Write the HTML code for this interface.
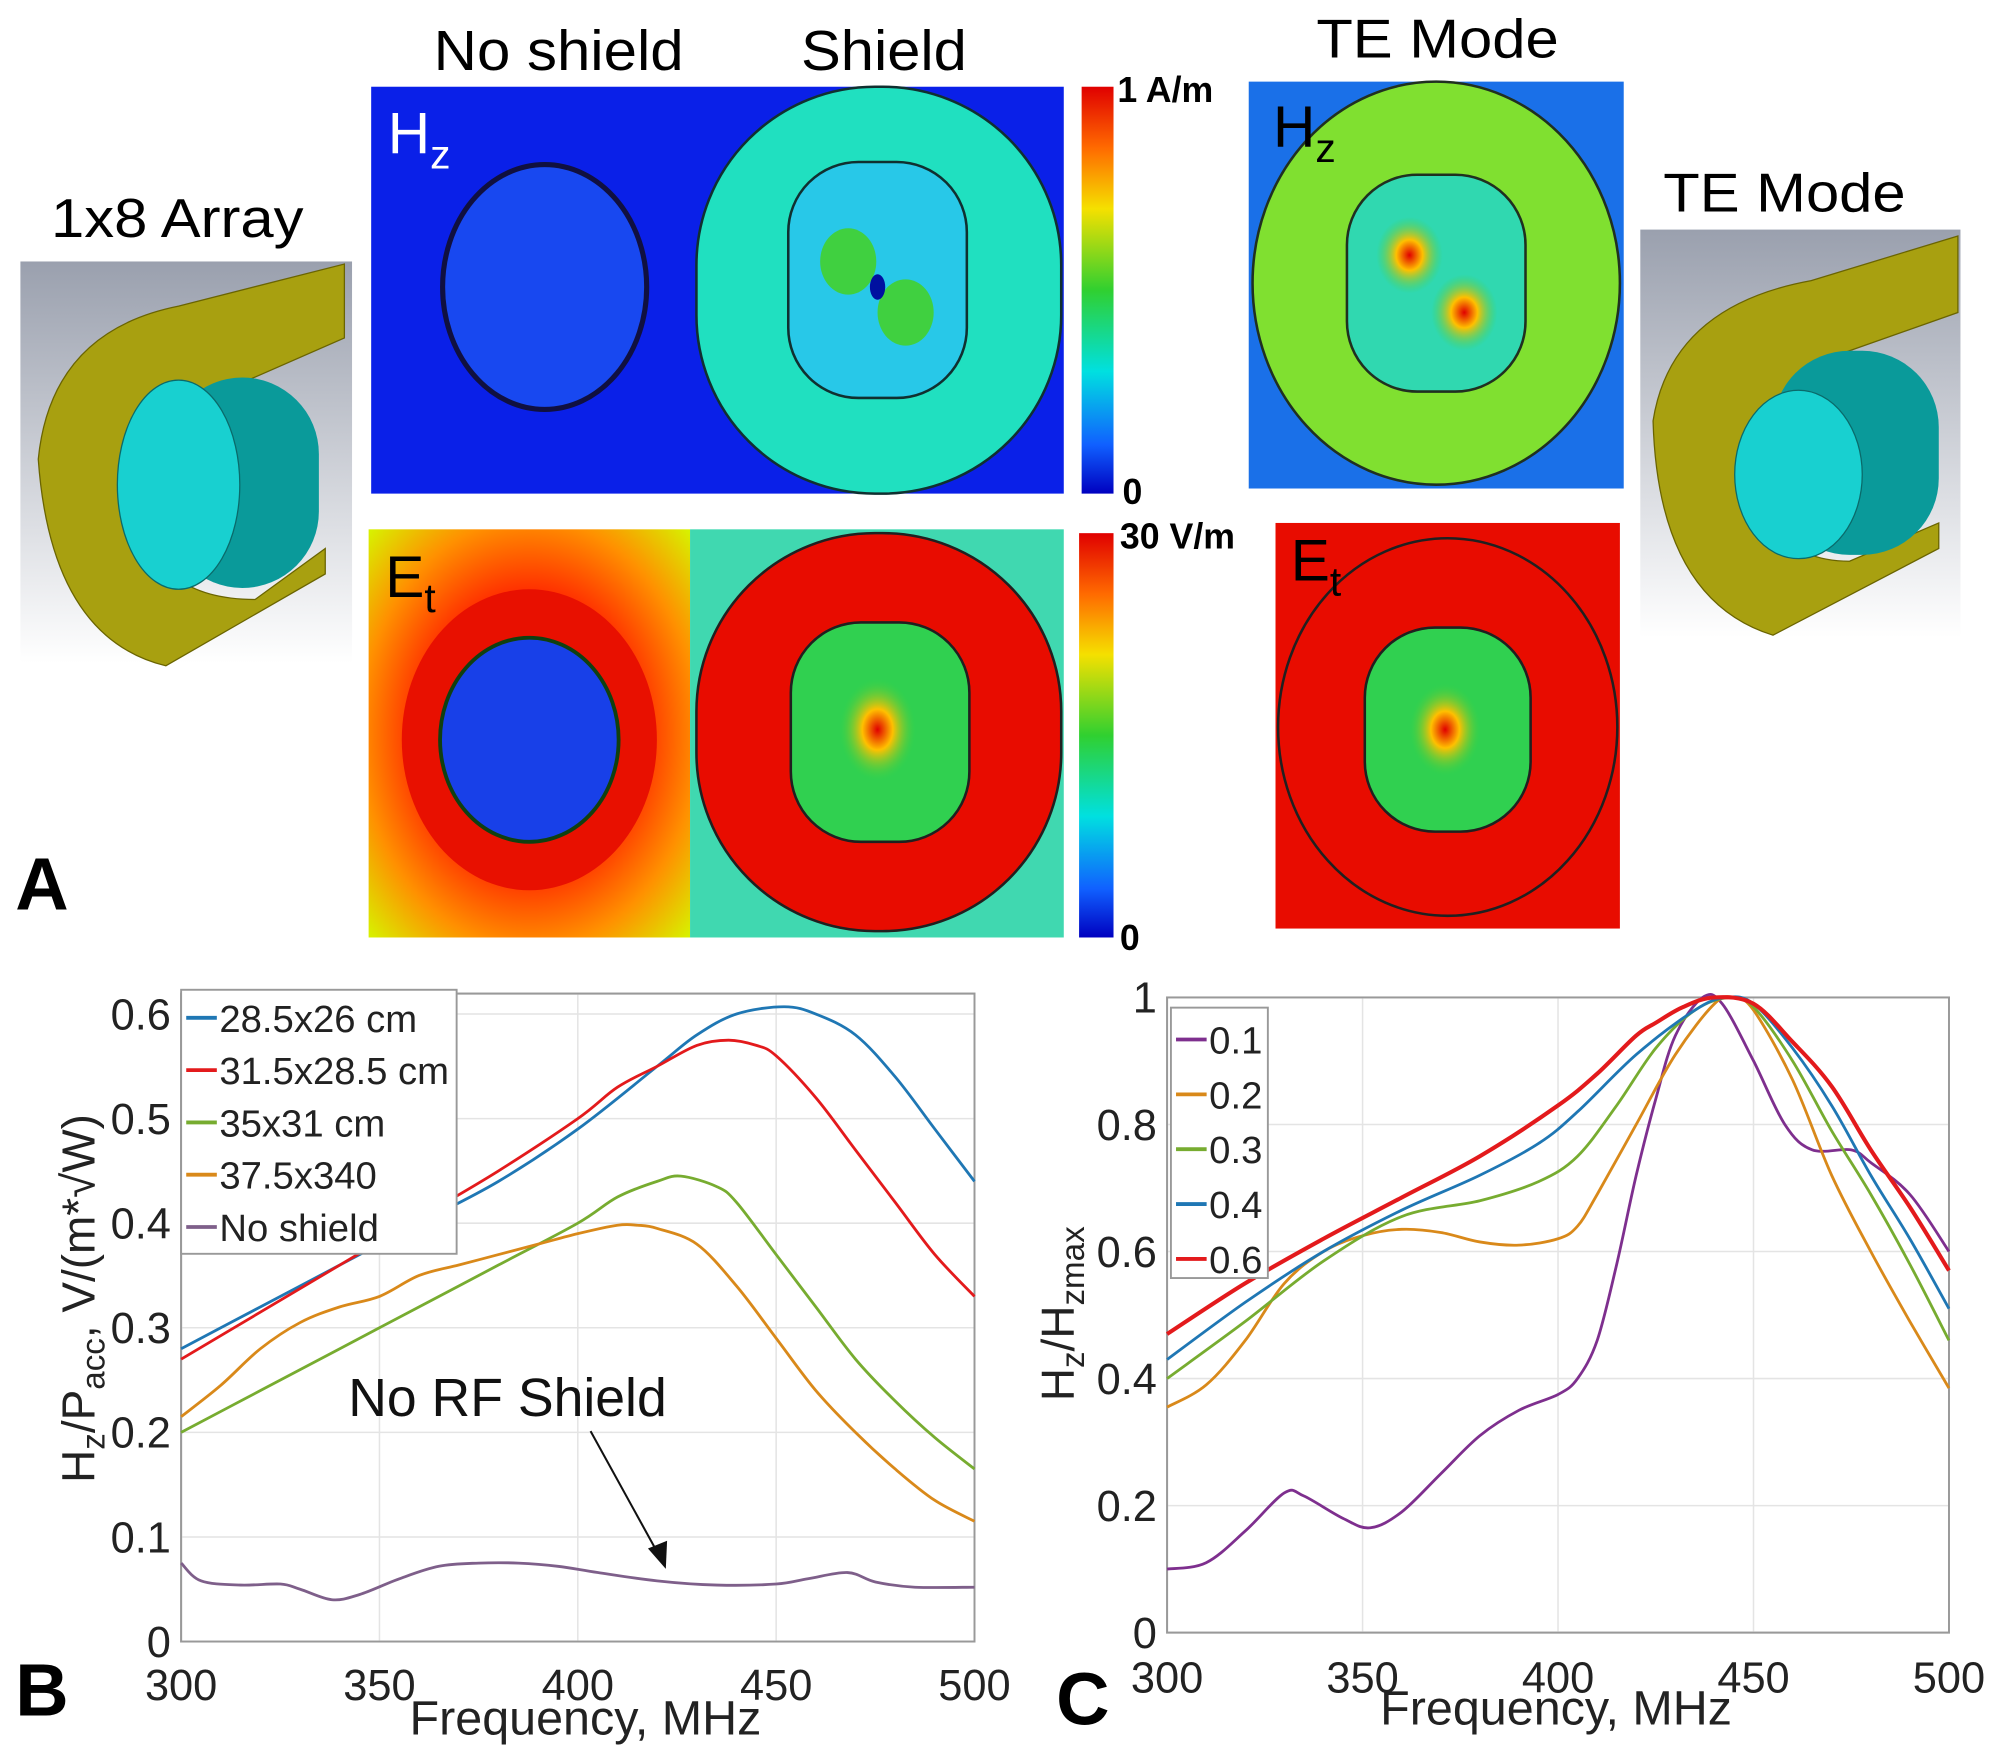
<!DOCTYPE html>
<html><head><meta charset="utf-8"><style>
html,body{margin:0;padding:0;background:#fff}
svg{display:block}
text{font-family:"Liberation Sans",sans-serif}
</style></head><body>
<svg id="fig" width="2000" height="1764" viewBox="0 0 1568 1383" preserveAspectRatio="none" xmlns="http://www.w3.org/2000/svg">
<defs>
<linearGradient id="cbar" x1="0" y1="0" x2="0" y2="1">
<stop offset="0" stop-color="#e00000"/><stop offset="0.15" stop-color="#ff6a00"/><stop offset="0.3" stop-color="#f5e000"/><stop offset="0.5" stop-color="#30d030"/><stop offset="0.7" stop-color="#00e0e0"/><stop offset="0.88" stop-color="#1060ff"/><stop offset="1" stop-color="#0000c0"/>
</linearGradient>
<linearGradient id="bg3d" x1="0" y1="0" x2="0" y2="1"><stop offset="0" stop-color="#9aa0ae"/><stop offset="1" stop-color="#ffffff"/></linearGradient>
<radialGradient id="etL" cx="0.5" cy="0.5" r="0.7"><stop offset="0.5" stop-color="#ff3000"/><stop offset="0.75" stop-color="#ff9000"/><stop offset="1" stop-color="#d8f000"/></radialGradient>
<radialGradient id="hot" cx="0.5" cy="0.5" r="0.5"><stop offset="0" stop-color="#e00000"/><stop offset="0.4" stop-color="#ffc000"/><stop offset="1" stop-color="#40d040" stop-opacity="0"/></radialGradient>
</defs>

<text x="12" y="713" font-size="58" font-weight="bold">A</text>
<text x="40" y="186" font-size="43" textLength="198" lengthAdjust="spacingAndGlyphs">1x8 Array</text>
<text x="340" y="55" font-size="44" textLength="196" lengthAdjust="spacingAndGlyphs">No shield</text>
<text x="628" y="55" font-size="44" textLength="130" lengthAdjust="spacingAndGlyphs">Shield</text>
<text x="1032" y="45" font-size="43" textLength="190" lengthAdjust="spacingAndGlyphs">TE Mode</text>
<text x="1304" y="166" font-size="43" textLength="190" lengthAdjust="spacingAndGlyphs">TE Mode</text>

<g>
<rect x="16" y="205" width="260" height="315" fill="url(#bg3d)"/>
<path d="M30 360 Q40 260 140 240 L270 207 L270 265 L190 300 Q110 320 110 400 Q120 470 200 470 L255 430 L255 450 L130 522 Q40 500 30 360 Z" fill="#a8a010" stroke="#6a6400"/>
<rect x="130" y="296" width="120" height="165" rx="60" fill="#0a9a9a"/>
<ellipse cx="140" cy="380" rx="48" ry="82" fill="#18d0d0" stroke="#0a6a6a"/>
</g>
<g>
<rect x="1286" y="180" width="251" height="320" fill="url(#bg3d)"/>
<path d="M1296 330 Q1310 240 1420 220 L1535 185 L1535 245 L1450 275 Q1380 300 1380 380 Q1390 440 1450 440 L1520 410 L1520 430 L1390 498 Q1300 470 1296 330 Z" fill="#a8a010" stroke="#6a6400"/>
<rect x="1390" y="275" width="130" height="160" rx="60" fill="#0a9a9a"/>
<ellipse cx="1410" cy="372" rx="50" ry="66" fill="#18d0d0" stroke="#0a6a6a"/>
</g>

<g>
<rect x="291" y="68" width="543" height="319" fill="#0a20e8"/>
<ellipse cx="427" cy="225" rx="80" ry="96" fill="#1848f0" stroke="#101040" stroke-width="4"/>
<rect x="546" y="68" width="286" height="319" rx="140" fill="#20e0c0" stroke="#103030" stroke-width="2"/>
<rect x="618" y="127" width="140" height="185" rx="55" fill="#28c8e8" stroke="#103030" stroke-width="2"/>
<ellipse cx="665" cy="205" rx="22" ry="26" fill="#40d040"/>
<ellipse cx="710" cy="245" rx="22" ry="26" fill="#40d040"/>
<ellipse cx="688" cy="225" rx="6" ry="10" fill="#0010a0"/>
<text x="304" y="120" font-size="46" fill="#fff">H<tspan font-size="32" dy="12">z</tspan></text>
</g>
<rect x="848" y="68" width="25" height="319" fill="url(#cbar)"/>
<text x="876" y="80" font-size="28" font-weight="bold">1 A/m</text>
<text x="880" y="395" font-size="28" font-weight="bold">0</text>

<g>
<rect x="289" y="415" width="252" height="320" fill="url(#etL)"/>
<ellipse cx="415" cy="580" rx="100" ry="118" fill="#e81000"/>
<ellipse cx="415" cy="580" rx="70" ry="80" fill="#1840e8" stroke="#104010" stroke-width="3"/>
<rect x="541" y="415" width="293" height="320" fill="#40d8b0"/>
<rect x="546" y="418" width="286" height="312" rx="140" fill="#e80c00" stroke="#202020" stroke-width="2"/>
<rect x="620" y="488" width="140" height="172" rx="55" fill="#30d050" stroke="#202020" stroke-width="2"/>
<ellipse cx="688" cy="572" rx="30" ry="40" fill="url(#hot)"/>
<text x="302" y="468" font-size="46">E<tspan font-size="32" dy="12">t</tspan></text>
</g>
<rect x="846" y="418" width="27" height="317" fill="url(#cbar)"/>
<text x="878" y="430" font-size="28" font-weight="bold">30 V/m</text>
<text x="878" y="745" font-size="28" font-weight="bold">0</text>

<g>
<rect x="979" y="64" width="294" height="319" fill="#1a70e8"/>
<ellipse cx="1126" cy="222" rx="144" ry="158" fill="#80e030" stroke="#203020" stroke-width="2"/>
<rect x="1056" y="137" width="140" height="170" rx="55" fill="#30d8b0" stroke="#203020" stroke-width="2"/>
<ellipse cx="1105" cy="200" rx="26" ry="30" fill="url(#hot)"/>
<ellipse cx="1148" cy="245" rx="26" ry="30" fill="url(#hot)"/>
<text x="998" y="115" font-size="46">H<tspan font-size="32" dy="12">z</tspan></text>
</g>
<g>
<rect x="1000" y="410" width="270" height="318" fill="#e80c00"/>
<ellipse cx="1135" cy="570" rx="133" ry="148" fill="none" stroke="#202020" stroke-width="2"/>
<rect x="1070" y="492" width="130" height="160" rx="55" fill="#30d050" stroke="#202020" stroke-width="2"/>
<ellipse cx="1133" cy="572" rx="28" ry="36" fill="url(#hot)"/>
<text x="1012" y="455" font-size="46">E<tspan font-size="32" dy="12">t</tspan></text>
</g>

<text x="12" y="1345" font-size="58" font-weight="bold">B</text>
<g id="chartB"></g>
<text x="828" y="1352" font-size="58" font-weight="bold">C</text>
<g id="chartC"></g>
</svg>
<script>
// ---- Chart B data ----
const bBlueX=[300,320,340,360,380,400,420,430,440,452,460,470,480,490,500];
const bBlueY=[0.28,0.32,0.36,0.40,0.44,0.49,0.55,0.58,0.60,0.607,0.60,0.58,0.54,0.49,0.44];
const bRedX=[300,320,340,360,380,400,410,420,430,438,445,450,460,470,480,490,500];
const bRedY=[0.27,0.315,0.36,0.405,0.45,0.50,0.53,0.55,0.57,0.575,0.57,0.56,0.52,0.47,0.42,0.37,0.33];
const bGreenX=[300,320,340,360,380,400,410,420,426,435,440,450,460,470,480,490,500];
const bGreenY=[0.20,0.24,0.28,0.32,0.36,0.40,0.425,0.44,0.445,0.435,0.42,0.37,0.32,0.27,0.23,0.195,0.165];
const bOrangeX=[300,310,320,330,340,350,360,370,380,390,400,410,415,420,430,440,450,460,470,480,490,500];
const bOrangeY=[0.215,0.245,0.28,0.305,0.32,0.33,0.35,0.36,0.37,0.38,0.39,0.398,0.398,0.395,0.38,0.34,0.29,0.24,0.20,0.165,0.135,0.115];
const bPurpleX=[300,305,315,325,330,338,345,355,365,375,385,395,405,420,435,450,458,468,475,485,500];
const bPurpleY=[0.075,0.058,0.054,0.055,0.05,0.04,0.045,0.06,0.072,0.075,0.075,0.072,0.066,0.058,0.054,0.055,0.06,0.066,0.057,0.052,0.052];
const bLegend=["28.5x26 cm","31.5x28.5 cm","35x31 cm","37.5x340","No shield"];
const bXTicks=[300,350,400,450,500];
const bYTicks=[0,0.1,0.2,0.3,0.4,0.5,0.6];
// ---- Chart C data ----
const c1X=[300,310,320,330,335,345,352,360,370,380,390,400,405,410,415,420,425,430,437,442,450,458,465,475,480,490,500];
const c1Y=[0.10,0.11,0.16,0.22,0.215,0.18,0.165,0.19,0.25,0.31,0.35,0.375,0.40,0.46,0.58,0.72,0.84,0.94,1.0,0.99,0.90,0.80,0.76,0.76,0.74,0.69,0.60];
const c2X=[300,310,320,330,340,350,360,370,380,390,400,405,410,420,430,440,445,450,460,470,480,490,500];
const c2Y=[0.355,0.39,0.46,0.55,0.60,0.625,0.635,0.63,0.615,0.61,0.62,0.64,0.69,0.80,0.91,0.99,1.0,0.98,0.87,0.72,0.60,0.49,0.385];
const c3X=[300,320,340,360,380,395,405,415,425,435,444,450,460,470,480,490,500];
const c3Y=[0.40,0.49,0.585,0.655,0.68,0.71,0.75,0.83,0.92,0.98,1.0,0.985,0.90,0.79,0.69,0.58,0.46];
const c4X=[300,320,340,360,380,395,405,420,435,443,450,460,470,480,490,500];
const c4Y=[0.43,0.52,0.60,0.665,0.72,0.77,0.82,0.91,0.98,1.0,0.99,0.92,0.83,0.72,0.62,0.51];
const c6X=[300,320,340,360,380,400,410,420,425,432,440,450,460,470,480,490,500];
const c6Y=[0.47,0.55,0.62,0.685,0.75,0.83,0.88,0.94,0.96,0.985,1.0,0.99,0.93,0.86,0.76,0.67,0.57];
const cLegend=["0.1","0.2","0.3","0.4","0.6"];
const cXTicks=[300,350,400,450,500];
const cYTicks=[0,0.2,0.4,0.6,0.8,1];

const NS="http://www.w3.org/2000/svg";
function mk(tag,parent,attrs){const e=document.createElementNS(NS,tag);for(const k in attrs)e.setAttribute(k,attrs[k]);parent.appendChild(e);return e;}
function smooth(pts){
  let d='M'+pts[0][0].toFixed(1)+' '+pts[0][1].toFixed(1);
  for(let i=0;i<pts.length-1;i++){
    const p0=pts[i-1]||pts[i],p1=pts[i],p2=pts[i+1],p3=pts[i+2]||p2;
    const c1=[p1[0]+(p2[0]-p0[0])/6,p1[1]+(p2[1]-p0[1])/6];
    const c2=[p2[0]-(p3[0]-p1[0])/6,p2[1]-(p3[1]-p1[1])/6];
    d+=' C'+c1[0].toFixed(1)+' '+c1[1].toFixed(1)+' '+c2[0].toFixed(1)+' '+c2[1].toFixed(1)+' '+p2[0].toFixed(1)+' '+p2[1].toFixed(1);
  }
  return d;
}

function drawChart(g,cfg){
  const sx=v=>cfg.x0+(v-300)/200*(cfg.x1-cfg.x0);
  const sy=v=>cfg.y0-(v/cfg.ymaxTick)*(cfg.y0-cfg.yTickTop);
  const box=mk('rect',g,{x:cfg.x0,y:cfg.top,width:cfg.x1-cfg.x0,height:cfg.y0-cfg.top,fill:'#fff',stroke:'#999','stroke-width':1.5});
  
  
  cfg.xt.forEach(t=>{
    const l=mk('line',g,{x1:sx(t),x2:sx(t),y1:cfg.top,y2:cfg.y0,stroke:'#e4e4e4','stroke-width':1.2});
    
    
    const tx=mk('text',g,{x:sx(t),y:cfg.xLabY,'font-size':34,'text-anchor':'middle',fill:'#222'});
    tx.textContent=t;
    
    
  });
  cfg.yt.forEach(t=>{
    const l=mk('line',g,{x1:cfg.x0,x2:cfg.x1,y1:sy(t),y2:sy(t),stroke:'#e4e4e4','stroke-width':1.2});
    
    
    const tx=mk('text',g,{x:cfg.x0-8,y:sy(t)+12,'font-size':34,'text-anchor':'end',fill:'#222'});
    tx.textContent=t;
    
    
  });
  mk('rect',g,{x:cfg.x0,y:cfg.top,width:cfg.x1-cfg.x0,height:cfg.y0-cfg.top,fill:'none',stroke:'#999','stroke-width':1.5});
  cfg.series.forEach((s,i)=>{
    const pts=s.x.map((v,j)=>[sx(v),sy(s.y[j])]);
    const p=mk('path',g,{d:smooth(pts),fill:'none',stroke:s.c,'stroke-width':s.w||2.2,'stroke-linejoin':'round'});
    
    
  });
  const L=cfg.leg;
  const lb=mk('rect',g,{x:L.x,y:L.y,width:L.w,height:L.h,fill:'#fff',stroke:'#999','stroke-width':1.5});
  
  
  cfg.labels.forEach((t,i)=>{
    const yy=L.y+L.first+i*L.step;
    mk('line',g,{x1:L.x+4,x2:L.x+28,y1:yy,y2:yy,stroke:cfg.series[i].c,'stroke-width':3});
    const tx=mk('text',g,{x:L.x+30,y:yy+11,'font-size':30,fill:'#222'});
    tx.textContent=t;
    
    
  });
  const xt=mk('text',g,{x:cfg.xTitleX,y:cfg.xTitleY,'font-size':38,'text-anchor':'middle',fill:'#222'});
  xt.textContent='Frequency, MHz';
  
  
}

const gB=document.getElementById('chartB');
drawChart(gB,{x0:142,x1:764,y0:1287,top:779,ymaxTick:0.6,yTickTop:795,xt:bXTicks,yt:bYTicks,xLabY:1333,xTitleX:459,xTitleY:1360,
 series:[{x:bBlueX,y:bBlueY,c:'#1f77b4'},{x:bRedX,y:bRedY,c:'#e31a1c'},{x:bGreenX,y:bGreenY,c:'#77ac30'},{x:bOrangeX,y:bOrangeY,c:'#d9891a'},{x:bPurpleX,y:bPurpleY,c:'#7e5f8a'}],
 labels:bLegend,leg:{x:142,y:776,w:216,h:207,first:22,step:41}});
const gC=document.getElementById('chartC');
drawChart(gC,{x0:915,x1:1528,y0:1280,top:782,ymaxTick:1,yTickTop:782,xt:cXTicks,yt:cYTicks,xLabY:1327,xTitleX:1220,xTitleY:1352,
 series:[{x:c1X,y:c1Y,c:'#7e2f8e'},{x:c2X,y:c2Y,c:'#d9891a'},{x:c3X,y:c3Y,c:'#77ac30'},{x:c4X,y:c4Y,c:'#1f77b4'},{x:c6X,y:c6Y,c:'#e31a1c',w:3.2}],
 labels:cLegend,leg:{x:918,y:790,w:76,h:212,first:25,step:43}});

const yb=mk('text',gB,{x:0,y:0,'font-size':36,fill:'#222','text-anchor':'middle',transform:'translate(74,1018) rotate(-90)'});
yb.innerHTML='H<tspan font-size="26" dy="8">z</tspan><tspan dy="-8">/P</tspan><tspan font-size="26" dy="8">acc</tspan><tspan dy="-8">, V/(m*√W)</tspan>';


const yc=mk('text',gC,{x:0,y:0,'font-size':36,fill:'#222','text-anchor':'middle',transform:'translate(842,1030) rotate(-90)'});
yc.innerHTML='H<tspan font-size="26" dy="8">z</tspan><tspan dy="-8">/H</tspan><tspan font-size="26" dy="8">zmax</tspan>';


const an=mk('text',gB,{x:273,y:1110,'font-size':42,fill:'#111'});
an.textContent='No RF Shield';


const ar=mk('line',gB,{x1:463,y1:1122,x2:517,y2:1220,stroke:'#111','stroke-width':1.6});


mk('polygon',gB,{points:'522,1230 508,1214 523,1208',fill:'#111'});
</script>
</body></html>
